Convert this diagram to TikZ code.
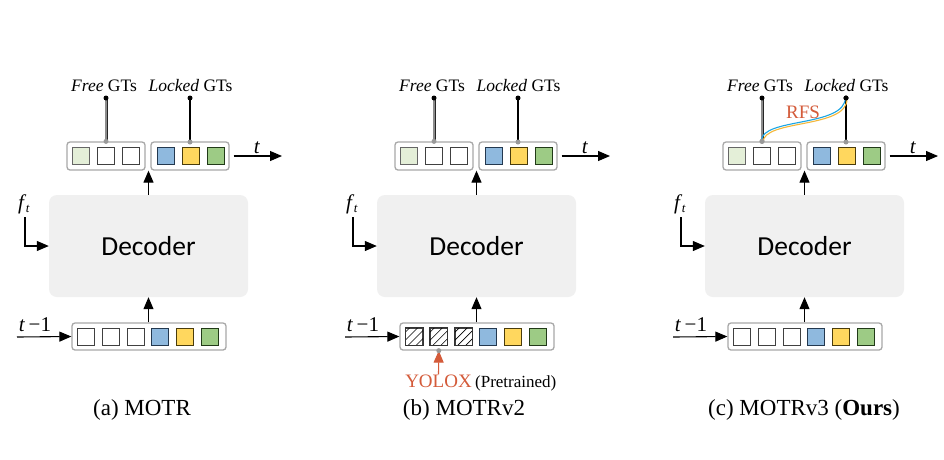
\documentclass[tikz,border=0pt]{standalone}
\usepackage{fontspec}
\setmainfont{Liberation Serif}
\newfontfamily\decfont{Carlito}
\usetikzlibrary{arrows.meta}
\definecolor{sqblue}{HTML}{8FB9DE}
\definecolor{sqbluedk}{HTML}{23384F}
\definecolor{sqyel}{HTML}{FFD75E}
\definecolor{sqyeldk}{HTML}{4A3C0C}
\definecolor{sqgrn}{HTML}{9DCB85}
\definecolor{sqgrndk}{HTML}{213A18}
\definecolor{sqlg}{HTML}{E4EFD8}
\definecolor{boxgray}{HTML}{A8A8A8}
\definecolor{decgray}{HTML}{F0F0F0}
\definecolor{redor}{HTML}{D45B3A}
\definecolor{rfsblue}{HTML}{1BA6E4}
\definecolor{rfsyel}{HTML}{F4B83A}
\tikzset{
  x=1pt, y=-1pt,
  arr/.style={-{Triangle[length=12pt,width=10pt]}, line width=1.1pt},
  yarr/.style={-{Triangle[length=12pt,width=10pt]}, line width=1.1pt, draw=redor, color=redor},
  grpbox/.style={draw=boxgray, line width=1.3pt, rounded corners=3pt, fill=white,
    minimum width=78pt, minimum height=28pt, inner sep=0pt},
  sqbox/.style={line width=1pt, minimum size=17pt, inner sep=0pt},
  sqw/.style={sqbox, draw=black!75, fill=white},
  sqlgs/.style={sqbox, draw=black!60, fill=sqlg},
  sqbs/.style={sqbox, draw=sqbluedk, fill=sqblue},
  sqys/.style={sqbox, draw=sqyeldk, fill=sqyel},
  sqgs/.style={sqbox, draw=sqgrndk, fill=sqgrn},
  decbox/.style={fill=decgray, rounded corners=8pt, minimum width=199pt,
    minimum height=102pt, inner sep=0pt, font=\decfont\fontsize{27.5}{30}\selectfont},
  lbl/.style={inner sep=0pt, font=\fontsize{17.5}{19}\selectfont},
  tlbl/.style={inner sep=0pt, font=\fontsize{21}{23}\selectfont},
  caplbl/.style={inner sep=0pt, font=\fontsize{23}{25}\selectfont},
  bdot/.style={circle, fill=black, minimum size=5pt, inner sep=0pt},
  gdot/.style={circle, fill=black!40, minimum size=5pt, inner sep=0pt},
  freeline/.style={draw=black!85, line width=0.6pt, double=black!45, double distance=1.8pt},
  lockline/.style={draw=black, line width=1.1pt},
  yolo/.style={inner sep=0pt, text=redor, font=\fontsize{19}{21}\selectfont},
  prelbl/.style={inner sep=0pt, font=\fontsize{17}{19}\selectfont},
}
\newcommand\mypanel[2]{%
\begin{scope}[xshift=#2pt]
\node[decbox] (#1-dec) at (148.5,246) {Decoder};
\node[grpbox] (#1-free) at (106,156) {};
\node[grpbox] (#1-lock) at (190,156) {};
\node[sqlgs] (#1-t1) at (81,156) {};
\node[sqw] (#1-t2) at (106,156) {};
\node[sqw] (#1-t3) at (131,156) {};
\node[sqbs] (#1-t4) at (166,156) {};
\node[sqys] (#1-t5) at (191,156) {};
\node[sqgs] (#1-t6) at (215.5,156) {};
\node[grpbox, minimum width=154pt, minimum height=27pt] (#1-bot) at (149,336.5) {};
\node[sqw] (#1-b1) at (86,336.5) {};
\node[sqw] (#1-b2) at (110.8,336.5) {};
\node[sqw] (#1-b3) at (135.6,336.5) {};
\node[sqbs] (#1-b4) at (160.4,336.5) {};
\node[sqys] (#1-b5) at (185.2,336.5) {};
\node[sqgs] (#1-b6) at (210,336.5) {};
\node[lbl] (#1-fl) at (104,85.5) {\textit{Free} GTs};
\node[lbl] (#1-ll) at (190.5,85.5) {\textit{Locked} GTs};
\coordinate (#1-fdc) at (106,98);
\coordinate (#1-ldc) at (190,98);
\coordinate (#1-lgc) at (190,142);
\draw[freeline] (#1-fdc) -- (#1-free.north);
\draw[lockline] (#1-ldc) -- (#1-lgc);
\node[bdot] (#1-fd) at (#1-fdc) {};
\node[bdot] (#1-ld) at (#1-ldc) {};
\node[gdot] (#1-fg) at (#1-free.north) {};
\node[gdot] (#1-lg) at (#1-lgc) {};
\draw[arr] (#1-dec.north) -- (#1-dec.north |- #1-free.south);
\draw[arr] (#1-bot.north -| #1-dec.south) -- (#1-dec.south);
\coordinate (#1-tend) at (282,156);
\draw[arr] ([xshift=4pt]#1-lock.east) -- (#1-tend);
\node[tlbl] (#1-tl) at (257,147.5) {\textit{t}};
\node[tlbl] (#1-ft) at (24,204) {\textit{f}\kern-0.5pt\raisebox{-0.35ex}{\fontsize{13}{13}\selectfont\textit{t}}};
\coordinate (#1-fts) at (25,217);
\draw[arr] (#1-fts) |- (#1-dec.west);
\node[tlbl] (#1-tm) at (35,324.5) {\textit{t}\,−1};
\coordinate (#1-tms) at (17,337);
\draw[arr] (#1-tms) -- (#1-bot.west);
\end{scope}}
\newcommand\hatchsq[1]{%
\begin{scope}
\clip (#1.south west) rectangle (#1.north east);
\foreach \d in {-16,-8,0,8,16} {
  \draw[line width=0.6pt] ([xshift=\d pt, yshift=-3pt]#1.south west) -- ++(26,-26);
}
\end{scope}
\draw[line width=1pt, draw=black!80] (#1.south west) rectangle (#1.north east);}
\begin{document}
\begin{tikzpicture}
\useasboundingbox (0,0) rectangle (944,459);
\fill[white] (0,0) rectangle (944,459);
\mypanel{a}{0}
\mypanel{b}{328}
\mypanel{c}{656}
% (b) hatched detector queries and YOLOX
\hatchsq{b-b1}
\hatchsq{b-b2}
\hatchsq{b-b3}
\node[yolo] (b-yolo) at (438.5,381) {YOLOX};
\node[prelbl, anchor=base west] (b-pre) at ([xshift=3pt]b-yolo.base east) {(Pretrained)};
\draw[yarr] (b-yolo.north) -- (b-b2 |- b-bot.south);
\node[gdot] (b-yg) at (b-b2 |- b-bot.south) {};
% (c) RFS
\coordinate (c-k1) at (762,118);
\coordinate (c-k2) at (846,128);
\draw[rfsyel, line width=1.1pt] ([shift={(1,1)}]c-fg.center) .. controls ([shift={(1,1)}]c-k1) and ([shift={(1,1)}]c-k2) .. ([shift={(1,1)}]c-ld.center);
\draw[rfsblue, line width=1.1pt] ([shift={(-0.6,-0.6)}]c-fg.center) .. controls ([shift={(-0.6,-0.6)}]c-k1) and ([shift={(-0.6,-0.6)}]c-k2) .. ([shift={(-0.6,-0.6)}]c-ld.center);
\node[gdot] (c-fg2) at (c-fg) {};
\node[bdot] (c-ld2) at (c-ld) {};
\node[lbl, text=redor, font=\fontsize{19}{21}\selectfont] (c-rfs) at (803,112) {RFS};
% captions
\node[caplbl] (a-cap) at (142,410) {(a) MOTR};
\node[caplbl] (b-cap) at (464,410) {(b) MOTRv2};
\node[caplbl] (c-cap) at (804,410) {(c) MOTRv3 (\textbf{Ours})};
\end{tikzpicture}
\end{document}
